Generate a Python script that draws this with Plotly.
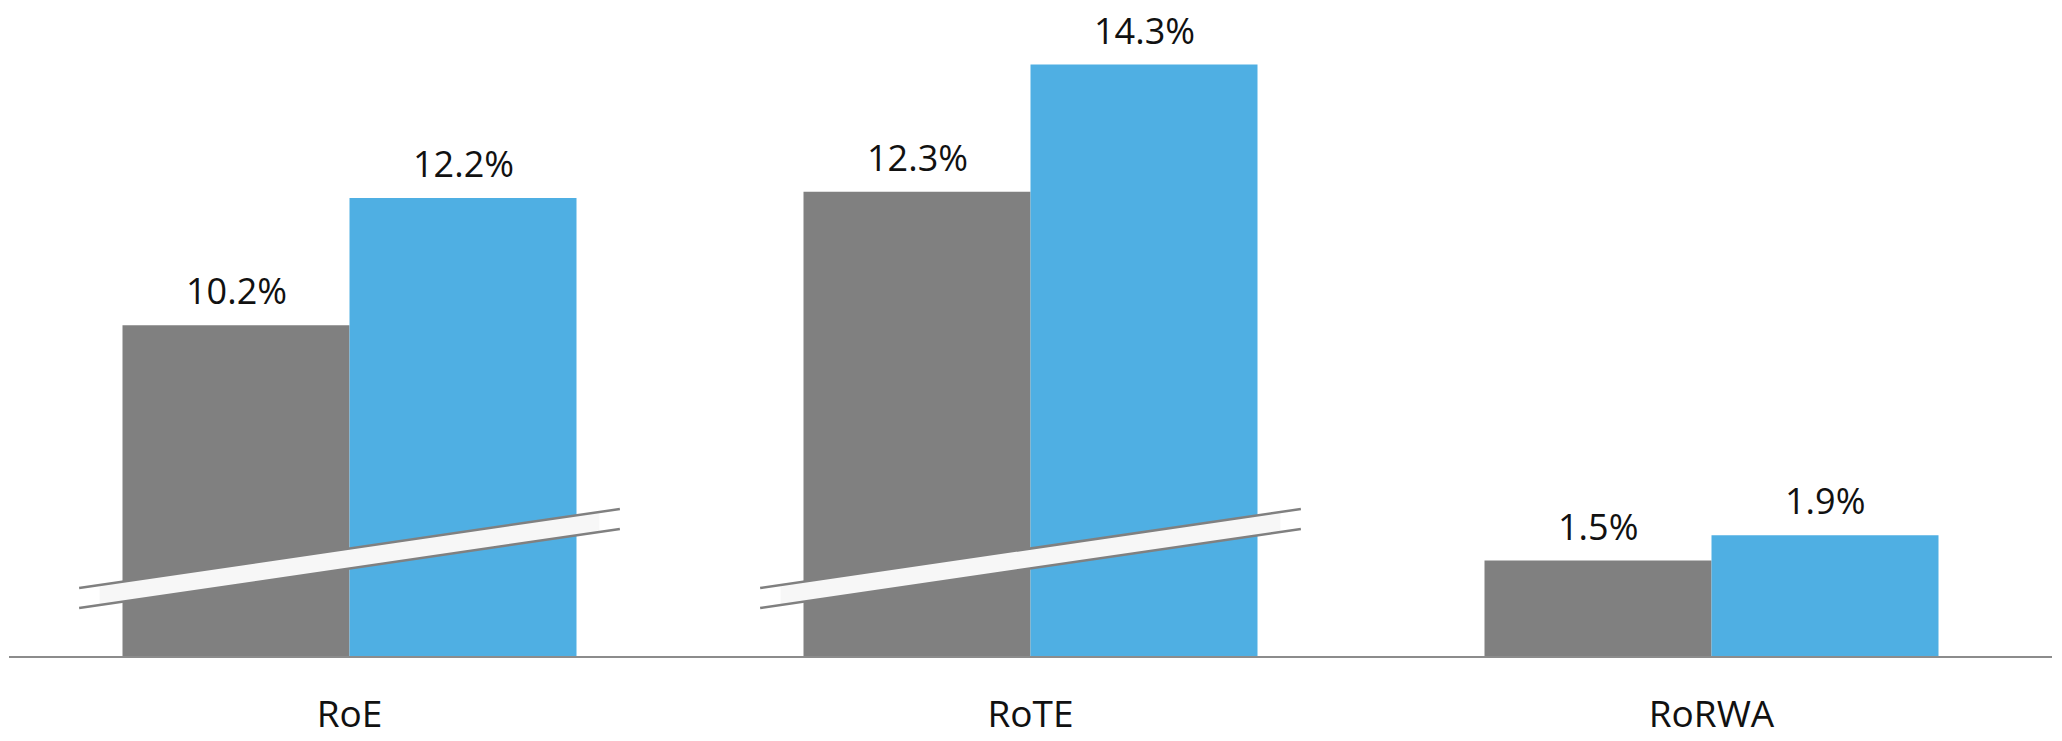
import plotly.graph_objects as go

# Return ratios per metric, previous vs current period (in %)
categories = ["RoE", "RoTE", "RoRWA"]
previous = [10.2, 12.3, 1.5]
current = [12.2, 14.3, 1.9]
# Metrics drawn on a broken value axis (the lowest part is cut away)
broken = [True, True, False]
AXIS_BREAK = 5.0  # percentage points removed below the break

GREY = "#808080"
BLUE = "#4fafe3"
FONT = "Open Sans"

BAR_W = 1 / 3
x_idx = list(range(len(categories)))


def shown(values):
    return [v - AXIS_BREAK if b else v for v, b in zip(values, broken)]


fig = go.Figure()
fig.add_trace(go.Bar(
    x=x_idx, y=shown(previous), width=BAR_W, offset=-BAR_W,
    marker=dict(color=GREY, line=dict(width=0)), name="previous",
    hoverinfo="skip",
))
fig.add_trace(go.Bar(
    x=x_idx, y=shown(current), width=BAR_W, offset=0,
    marker=dict(color=BLUE, line=dict(width=0)), name="current",
    hoverinfo="skip",
))

# Value labels above each bar
annotations = []
for series, dx in ((previous, -BAR_W / 2), (current, BAR_W / 2)):
    for i, (v, h) in enumerate(zip(series, shown(series))):
        annotations.append(dict(
            x=i + dx, y=h, xref="x", yref="y", text=f"{v:.1f}%",
            showarrow=False, yanchor="bottom", yshift=8,
            font=dict(family=FONT, size=36, color="#111111"),
        ))

# Slanted break marks across the broken bars
shapes = []
HALF = 0.397           # half length of the mark, in category units
Y_UP = (1.069, 2.311)  # upper edge at left / right end
Y_LO = (0.755, 1.997)  # lower edge at left / right end
INSET = 0.03
for i, b in enumerate(broken):
    if not b:
        continue
    x0, x1 = i - HALF, i + HALF
    slope_u = (Y_UP[1] - Y_UP[0]) / (x1 - x0)
    slope_l = (Y_LO[1] - Y_LO[0]) / (x1 - x0)
    fx0, fx1 = x0 + INSET, x1 - INSET
    path = (
        f"M {fx0},{Y_UP[0] + slope_u * INSET} "
        f"L {fx1},{Y_UP[1] - slope_u * INSET} "
        f"L {fx1},{Y_LO[1] - slope_l * INSET} "
        f"L {fx0},{Y_LO[0] + slope_l * INSET} Z"
    )
    shapes.append(dict(type="path", path=path, xref="x", yref="y",
                       fillcolor="#f7f7f7", line=dict(width=0)))
    for ya, yb in (Y_UP, Y_LO):
        shapes.append(dict(type="line", xref="x", yref="y",
                           x0=x0, y0=ya, x1=x1, y1=yb,
                           line=dict(color=GREY, width=2.5)))

fig.update_layout(
    width=2062, height=741,
    margin=dict(l=9, r=10, t=0, b=85, autoexpand=False),
    paper_bgcolor="white", plot_bgcolor="white",
    showlegend=False,
    barmode="overlay",
    annotations=annotations,
    shapes=shapes,
    xaxis=dict(
        range=[-0.5, 2.5], tickvals=x_idx, ticktext=categories,
        showgrid=False, zeroline=False, ticks="",
        showline=True, linecolor="#8c8c8c", linewidth=2,
        tickfont=dict(family=FONT, size=37, color="#111111"),
        ticklabelstandoff=25, automargin=False, fixedrange=True,
    ),
    yaxis=dict(
        range=[0, 656 / 63.6], visible=False, showgrid=False,
        zeroline=False, fixedrange=True,
    ),
)

fig.write_html("out.html", config={"displayModeBar": False})
